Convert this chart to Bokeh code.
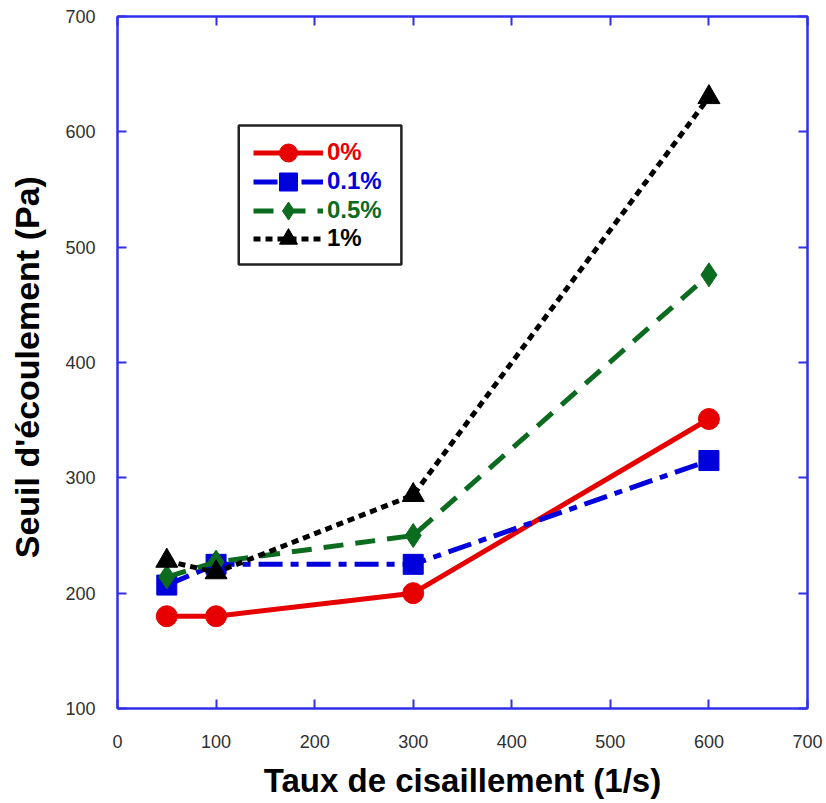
from bokeh.plotting import figure
from bokeh.models import (Legend, LegendItem, LinearAxis, FixedTicker, Range1d,
                          CustomJSTickFormatter, BoxAnnotation)
from bokeh.embed import file_html
from bokeh.resources import INLINE

# Shear rate (1/s) and yield stress (Pa) for each fibre content
shear_rate = [50, 100, 300, 600]
series_names = ["0%", "0.1%", "0.5%", "1%"]
yield_0 = [180, 180, 200, 351]
yield_01 = [207, 225, 225, 315]
yield_05 = [214, 227, 250, 476]
yield_1 = [228, 218, 285, 630]

x_ticks = [0, 100, 200, 300, 400, 500, 600, 700]
y_ticks = [100, 200, 300, 400, 500, 600, 700]

FONT = "Liberation Sans"
FRAME_BLUE = "#3030e8"

p = figure(width=826, height=803, output_backend="svg", toolbar_location=None,
           x_range=Range1d(0, 700), y_range=Range1d(100, 700),
           min_border_left=117, min_border_right=19, min_border_top=16,
           min_border_bottom=95, x_axis_location=None, y_axis_location=None)
p.xgrid.visible = False
p.ygrid.visible = False
p.outline_line_color = FRAME_BLUE
p.outline_line_width = 2
p.background_fill_color = "white"
p.border_fill_color = "white"


def style_axis(ax, ticks, show_labels):
    ax.ticker = FixedTicker(ticks=ticks)
    ax.axis_line_color = FRAME_BLUE
    ax.axis_line_width = 2
    ax.major_tick_line_color = FRAME_BLUE
    ax.major_tick_line_width = 2
    ax.major_tick_in = 9
    ax.major_tick_out = 0
    ax.minor_tick_line_color = None
    ax.major_label_text_font = FONT
    ax.major_label_text_font_size = "18px"
    ax.major_label_text_color = "#303030"
    if not show_labels:
        ax.formatter = CustomJSTickFormatter(code="return ''")
        ax.major_label_standoff = 0


xb = LinearAxis(axis_label="Taux de cisaillement (1/s)")
style_axis(xb, x_ticks, True)
xb.major_label_standoff = 26
xb.axis_label_standoff = 11
yl = LinearAxis(axis_label="Seuil d'écoulement  (Pa)")
style_axis(yl, y_ticks, True)
yl.major_label_standoff = 22
yl.axis_label_standoff = 16
for ax in (xb, yl):
    ax.axis_label_text_font = FONT
    ax.axis_label_text_font_style = "bold"
    ax.axis_label_text_font_size = "33px"
    ax.axis_label_text_color = "black"
yl.axis_label_text_font_size = "34px"

xt = LinearAxis()
style_axis(xt, x_ticks, False)
yr = LinearAxis()
style_axis(yr, y_ticks, False)

p.add_layout(xb, "below")
p.add_layout(yl, "left")
p.add_layout(xt, "above")
p.add_layout(yr, "right")

styles = [
    dict(color="#e60000", dash="solid", marker="circle", size=21),
    dict(color="#0000dd", dash="24 8 8 8", marker="square", size=20),
    dict(color="#0b6b1e", dash="20 12", marker="diamond", size=24),
    dict(color="black", dash="7 5", marker="triangle", size=22),
]
values = [yield_0, yield_01, yield_05, yield_1]

items = []
for name, ys, st in zip(series_names, values, styles):
    lr = p.line(shear_rate, ys, line_color=st["color"], line_width=5,
                line_dash=st["dash"])
    sr = p.scatter(shear_rate, ys, marker=st["marker"], size=st["size"],
                   fill_color=st["color"], line_color=st["color"])
    items.append((name, st["color"], [lr, sr]))

# Legend frame (in data units) enclosing the four legend entries
p.add_layout(BoxAnnotation(left=123, right=288, top=605.5, bottom=485,
                           fill_color="white", fill_alpha=1.0,
                           line_color="#222222", line_alpha=1.0, line_width=2.5,
                           level="annotation"))

# One legend per entry so each label carries its own series colour
row_centers = [152, 181, 210, 238]
row_h = 45
frame_bottom = 708
for (name, color, rends), cy in zip(items, row_centers):
    lg = Legend(items=[LegendItem(label=name, renderers=rends)],
                location=(136, frame_bottom - cy - row_h / 2),
                border_line_color=None, background_fill_alpha=0,
                padding=0, margin=0, spacing=0,
                glyph_width=70, glyph_height=row_h, label_height=row_h,
                label_standoff=4, label_text_font=FONT,
                label_text_font_style="bold", label_text_font_size="24px",
                label_text_color=color)
    p.add_layout(lg, "center")

open("out.html", "w").write(file_html(p, INLINE))
